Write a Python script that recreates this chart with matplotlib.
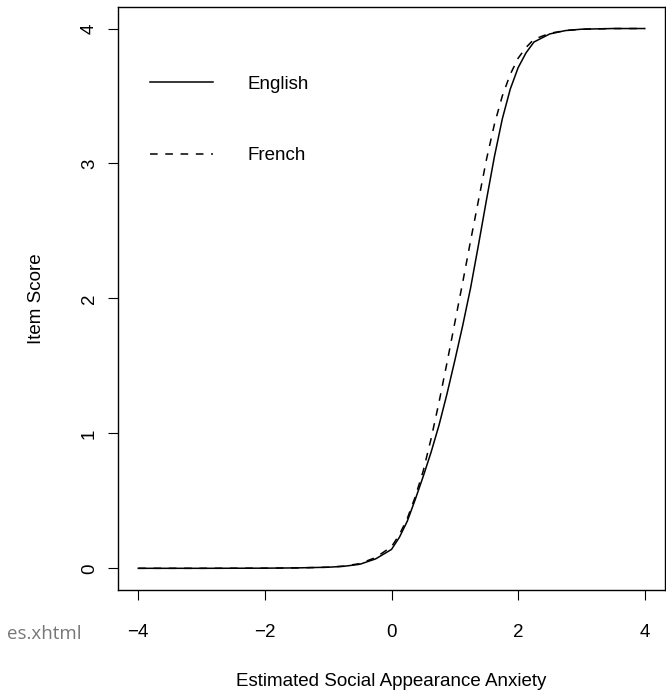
import matplotlib
matplotlib.use("Agg")
import matplotlib.pyplot as plt

plt.rcParams["font.family"] = ["Liberation Sans", "DejaVu Sans"]

# Expected item score by latent trait, one curve per language version
theta = [-4.0, -3.0, -2.0, -1.5, -1.0, -0.75, -0.5, -0.25, 0.0, 0.125, 0.25,
         0.375, 0.5, 0.625, 0.75, 0.875, 1.0, 1.125, 1.25, 1.375, 1.5, 1.625,
         1.75, 1.875, 2.0, 2.125, 2.25, 2.5, 2.75, 3.0, 3.5, 4.0]
english = [0.0, 0.0, 0.001, 0.003, 0.008, 0.015, 0.03, 0.07, 0.14, 0.23, 0.35,
           0.51, 0.68, 0.86, 1.06, 1.29, 1.54, 1.80, 2.08, 2.40, 2.73, 3.05,
           3.33, 3.55, 3.71, 3.82, 3.90, 3.96, 3.985, 3.995, 4.0, 4.0]
french = [0.0, 0.0, 0.001, 0.003, 0.008, 0.016, 0.035, 0.08, 0.16, 0.25, 0.37,
          0.53, 0.72, 0.96, 1.23, 1.52, 1.82, 2.12, 2.43, 2.73, 3.03, 3.29,
          3.50, 3.66, 3.78, 3.86, 3.92, 3.965, 3.985, 3.995, 4.0, 4.0]

x_ticks = [-4, -2, 0, 2, 4]
y_ticks = [0, 1, 2, 3, 4]

fig = plt.figure(figsize=(6.66, 6.94), dpi=100)
ax = fig.add_axes([0.1772, 0.150, 0.8213, 0.840])

ax.plot(theta, english, color="black", lw=1.1, label="English")
ax.plot(theta, french, color="black", lw=1.1, linestyle=(0, (5, 5)), label="French")

# R-style 4% padding around the data range
ax.set_xlim(-4.32, 4.32)
ax.set_ylim(-0.16, 4.16)
ax.set_xticks(x_ticks)
ax.set_yticks(y_ticks)
ax.set_xticklabels(["\u22124", "\u22122", "0", "2", "4"])
ax.set_yticklabels([str(v) for v in y_ticks], rotation=90, va="center")
ax.tick_params(direction="out", length=7.5, width=0.8, labelsize=13.5)
ax.tick_params(axis="x", pad=17)
ax.tick_params(axis="y", pad=7)
for s in ax.spines.values():
    s.set_linewidth(1.0)

ax.set_xlabel("Estimated Social Appearance Anxiety", fontsize=13.5, labelpad=23)
ax.set_ylabel("Item Score", fontsize=13.5, labelpad=26)

ax.legend(loc="upper left", bbox_to_anchor=(0.044, 0.895), frameon=False,
          fontsize=13.5, handlelength=3.4, handletextpad=1.8, labelspacing=2.9,
          borderaxespad=0)

fig.text(82 / 666, 1 - 634 / 694, "es.xhtml", ha="right", va="center",
         fontsize=13.5, color="#777777", family=["Open Sans", "DejaVu Sans"])

fig.savefig("out.png", dpi=100)
